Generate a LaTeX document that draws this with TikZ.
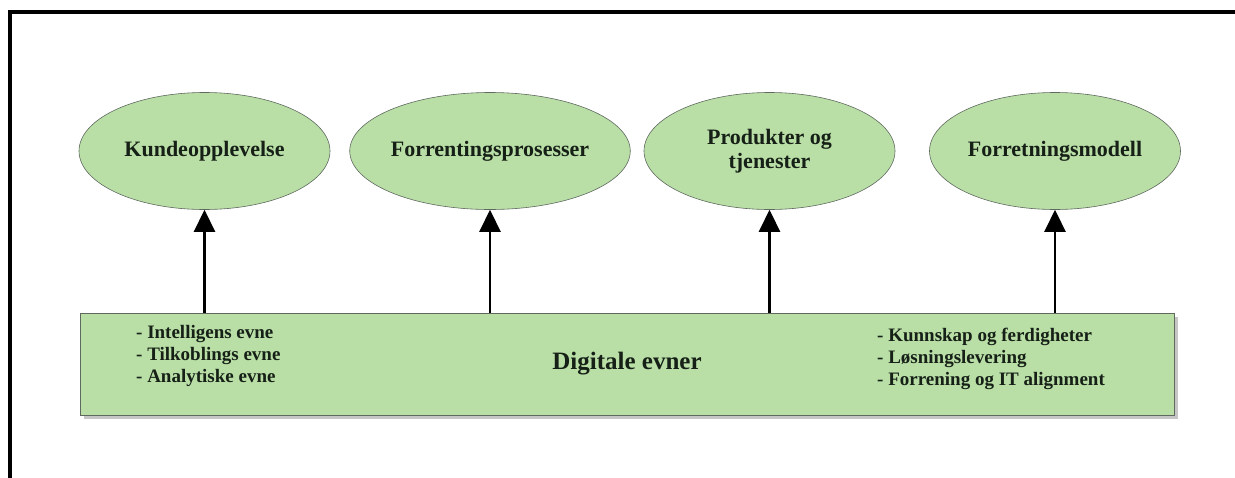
\documentclass[tikz,border=0pt]{standalone}
\usepackage{fontspec}
\setmainfont{Liberation Serif}
\usetikzlibrary{shapes.geometric,arrows.meta,shadows}
\definecolor{boxgreen}{RGB}{185,223,167}
\definecolor{edgegray}{RGB}{95,105,95}
\definecolor{txt}{RGB}{22,32,22}
\tikzset{
  goal/.style={ellipse, draw=edgegray, line width=0.6pt, fill=boxgreen,
    minimum width=251pt, minimum height=117pt, inner sep=0pt,
    text=txt, font=\bfseries\fontsize{22}{24}\selectfont, align=center},
  base/.style={rectangle, draw=edgegray, line width=0.8pt, fill=boxgreen,
    minimum width=1094pt, minimum height=102pt, inner sep=0pt,
    drop shadow={shadow xshift=4pt, shadow yshift=-4pt, opacity=0.45, fill=gray}},
  listtxt/.style={anchor=west, align=left, inner sep=0pt, text=txt,
    font=\bfseries\fontsize{19}{22}\selectfont},
  arr/.style={line width=2.6pt, -{Triangle[width=21pt,length=22pt]}}
}
\begin{document}
\begin{tikzpicture}[x=1pt,y=-1pt]
\useasboundingbox (0,0) rectangle (1235,477);
\draw[line width=4pt] (10,479) -- (10,12) -- (1237,12);
\node[goal] (e1) at (204.5,151) {Kundeopplevelse};
\node[goal] (e2) at (490,151) {Forrentingsprosesser};
\node[goal] (e3) at (769.5,151) {Produkter og\\tjenester};
\node[goal] (e4) at (1055,151) {Forretningsmodell};
\node[base] (r) at (627,364) {};
\node[text=txt, font=\bfseries\fontsize{25}{28}\selectfont, inner sep=0pt] (t) at (627,364) {Digitale evner};
\node[listtxt] (l) at (136,356) {- Intelligens evne\\- Tilkoblings evne\\- Analytiske evne};
\node[listtxt] (rl) at (877,359) {- Kunnskap og ferdigheter\\- Løsningslevering\\- Forrening og IT alignment};
\foreach \e in {e1,e2,e3,e4}{
  \draw[arr] (r.north -| \e.south) -- (\e.south);
}
\end{tikzpicture}
\end{document}
